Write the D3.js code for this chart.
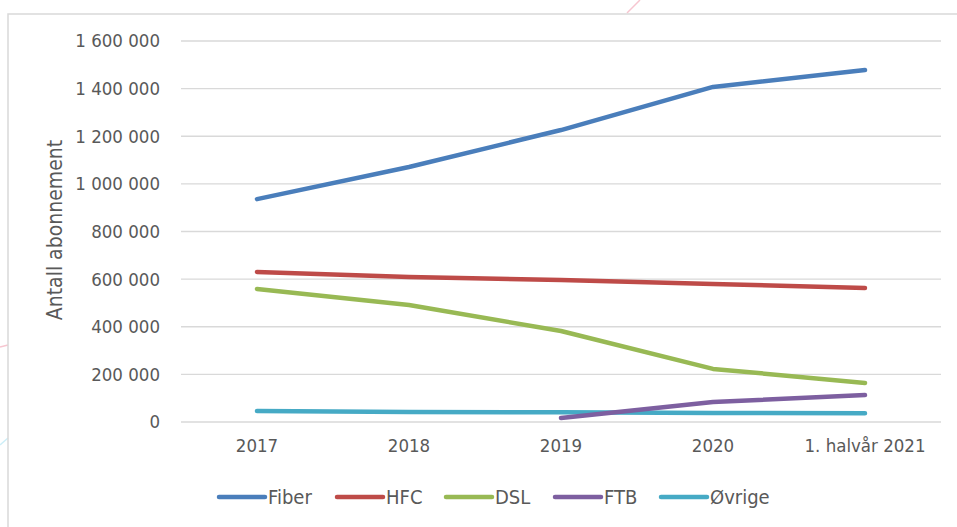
<!DOCTYPE html>
<html>
<head>
<meta charset="utf-8">
<script src="https://cdn.jsdelivr.net/npm/d3@7"></script>
<style>
  body { margin: 0; background: #fff; }
  text { font-family: "DejaVu Sans Condensed", "Liberation Sans Narrow", sans-serif; fill: #595959; }
</style>
</head>
<body>
<svg id="chart" width="957" height="527"></svg>
<script>
// categories and series
const years = ["2017", "2018", "2019", "2020", "1. halvår 2021"];
const fiber = [936000, 1071000, 1226000, 1407000, 1478000];
const hfc = [630000, 609000, 596000, 580000, 563000];
const dsl = [559000, 491000, 382000, 223000, 164000];
const ftb = [null, null, 17000, 84000, 113000];
const ovrige = [46000, 42000, 41000, 38000, 37000];
const yTicks = [0, 200000, 400000, 600000, 800000, 1000000, 1200000, 1400000, 1600000];

const series = [
  {name: "Fiber", values: fiber, color: "#4a7ebb"},
  {name: "HFC", values: hfc, color: "#be4b48"},
  {name: "DSL", values: dsl, color: "#98b954"},
  {name: "FTB", values: ftb, color: "#7d5fa0"},
  {name: "Øvrige", values: ovrige, color: "#46aac5"}
];

const svg = d3.select("#chart");

// background decorations outside the chart box
svg.append("line").attr("x1", 627).attr("y1", 13).attr("x2", 640).attr("y2", 0)
  .attr("stroke", "#f7c6d0").attr("stroke-width", 1.5);
svg.append("line").attr("x1", 0).attr("y1", 347).attr("x2", 8).attr("y2", 345)
  .attr("stroke", "#f7c6d0").attr("stroke-width", 1.5);
svg.append("line").attr("x1", 0).attr("y1", 445).attr("x2", 8).attr("y2", 438)
  .attr("stroke", "#cdeef7").attr("stroke-width", 1.5);

// chart border
svg.append("rect")
  .attr("x", 8).attr("y", 14).attr("width", 1000).attr("height", 600)
  .attr("fill", "none").attr("stroke", "#d9d9d9").attr("stroke-width", 1.5);

const x = d3.scaleBand().domain(years).range([181, 941]);
const y = d3.scaleLinear().domain([0, 1600000]).range([422, 41]);

const fmt = v => d3.format(",")(v).replace(/,/g, " ");

// gridlines
svg.append("g")
  .selectAll("line")
  .data(yTicks)
  .enter().append("line")
  .attr("x1", 181).attr("x2", 941)
  .attr("y1", d => y(d)).attr("y2", d => y(d))
  .attr("stroke", "#d9d9d9").attr("stroke-width", 1.3);

// y axis labels
svg.append("g")
  .attr("transform", "translate(160,0)")
  .call(d3.axisLeft(y).tickValues(yTicks).tickSize(0).tickPadding(0).tickFormat(fmt))
  .call(g => g.select(".domain").remove())
  .selectAll("text")
  .style("font-size", "18.5px").attr("fill", "#595959");

// x axis labels
svg.append("g")
  .attr("transform", "translate(0,439)")
  .call(d3.axisBottom(x).tickSize(0).tickPadding(0))
  .call(g => g.select(".domain").remove())
  .selectAll("text")
  .style("font-size", "18.5px").attr("fill", "#595959");

// y axis title
svg.append("text")
  .attr("transform", "translate(62,230) rotate(-90)")
  .attr("text-anchor", "middle")
  .style("font-size", "21px")
  .text("Antall abonnement");

// lines
const line = d3.line()
  .defined(d => d.v != null)
  .x(d => x(d.cat) + x.bandwidth() / 2)
  .y(d => y(d.v));

svg.append("g")
  .selectAll("path")
  .data(series.slice().reverse())
  .enter().append("path")
  .attr("d", s => line(s.values.map((v, i) => ({cat: years[i], v}))))
  .attr("fill", "none")
  .attr("stroke", s => s.color)
  .attr("stroke-width", 4.5)
  .attr("stroke-linecap", "round")
  .attr("stroke-linejoin", "round");

// legend
const legendX = [219, 337, 446, 555, 661];
const lg = svg.append("g")
  .selectAll("g")
  .data(series)
  .enter().append("g")
  .attr("transform", (d, i) => `translate(${legendX[i]},497)`);
lg.append("line")
  .attr("x1", 0).attr("x2", 46).attr("y1", 0).attr("y2", 0)
  .attr("stroke", d => d.color).attr("stroke-width", 4.5).attr("stroke-linecap", "round");
lg.append("text")
  .attr("x", 49).attr("y", 0).attr("dy", "0.35em")
  .style("font-size", "20px")
  .text(d => d.name);
</script>
</body>
</html>
